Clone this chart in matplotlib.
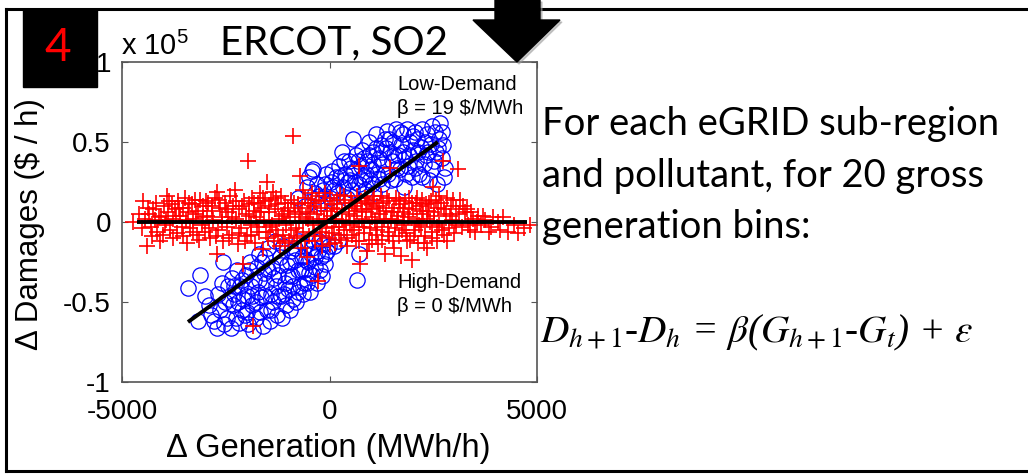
import matplotlib
matplotlib.use("Agg")
import matplotlib.pyplot as plt
from matplotlib.patches import Rectangle, Polygon
from matplotlib.lines import Line2D

W, H = 1028, 476

# (delta generation MWh/h, delta damages in 1e5 $/h)
low_demand = [
    (-3410, -0.41), (-3120, -0.33), (-3170, -0.62), (-2900, -0.52), (-2850, -0.58),
    (-2710, -0.66), (-2680, -0.45), (-2640, -0.55), (-2570, -0.25), (-2520, -0.50),
    (-2480, -0.60), (-2450, -0.40), (-2380, -0.66), (-2350, -0.35), (-2330, -0.52),
    (-2290, -0.45), (-2260, -0.60), (-2230, -0.30), (-2180, -0.63), (-2150, -0.40),
    (-2120, -0.55), (-2080, -0.48), (-2040, -0.58), (-2010, -0.33), (-1980, -0.46),
    (-1960, -0.64), (-1920, -0.25), (-1890, -0.40), (-1860, -0.52), (-1840, -0.68),
    (-1810, -0.36), (-1780, -0.60), (-1750, -0.28), (-1720, -0.44), (-1700, -0.20),
    (-1670, -0.56), (-1640, -0.47), (-1610, -0.65), (-1590, -0.32), (-1560, -0.22),
    (-1530, -0.38), (-1500, -0.55), (-1470, -0.16), (-1440, -0.62), (-1410, -0.45),
    (-1380, -0.28), (-1350, -0.50), (-1320, -0.12), (-1290, -0.40), (-1260, -0.58),
    (-1230, -0.33), (-1200, -0.22), (-1170, -0.46), (-1140, -0.60), (-1110, -0.15),
    (-1080, -0.38), (-1050, -0.52), (-1020, -0.27), (-990, -0.42), (-960, -0.55),
    (-930, -0.18), (-900, -0.34), (-870, -0.48), (-840, -0.24), (-800, -0.50),
    (-770, -0.30), (-740, -0.12), (-700, -0.40), (-670, -0.22), (-640, -0.45),
    (-610, -0.30), (-580, -0.15), (-550, -0.38), (-520, -0.25), (-480, -0.44),
    (-450, -0.20), (-420, -0.33), (-390, -0.12), (-350, -0.28), (-310, -0.38),
    (-280, -0.18), (-240, -0.30), (-200, -0.22), (-150, -0.14), (-100, -0.26),
    (-50, -0.18), (-3000, -0.46), (-2780, -0.62), (-2600, -0.38), (-2540, -0.64),
    (-2420, -0.48), (-2310, -0.40), (-2200, -0.50), (-2100, -0.36), (-2000, -0.56),
    (-1930, -0.30), (-1870, -0.46), (-1770, -0.50), (-1690, -0.36), (-1620, -0.25),
    (-1550, -0.46), (-1480, -0.30), (-1400, -0.55), (-1330, -0.35), (-1250, -0.46),
    (-1180, -0.27), (-1100, -0.45), (-1000, -0.34), (-950, -0.25), (-880, -0.40),
    (-820, -0.16), (-760, -0.44), (-690, -0.30), (-620, -0.38), (-560, -0.24),
    (-500, -0.32), (-430, -0.16), (-360, -0.22), (-260, -0.12), (-180, -0.34),
    (-120, -0.20), (-20, -0.15), (100, -0.15), (200, -0.12),
    (-750, 0.15), (-600, 0.10), (-500, 0.28), (-430, 0.32), (-400, 0.33),
    (-350, 0.18), (-300, 0.24), (-220, 0.12), (-150, 0.20), (-80, 0.30),
    (0, 0.15), (30, 0.25), (80, 0.22), (150, 0.28), (180, 0.18),
    (230, 0.35), (300, 0.44), (330, 0.22), (380, 0.30), (420, 0.15),
    (460, 0.38), (500, 0.26), (540, 0.20), (570, 0.52), (600, 0.32),
    (640, 0.42), (660, -0.36), (700, 0.24), (720, -0.20), (750, 0.35),
    (790, 0.45), (830, 0.28), (860, 0.20), (900, 0.38), (940, 0.50),
    (970, 0.26), (1000, 0.33), (1040, 0.44), (1080, 0.18), (1110, 0.55),
    (1150, 0.30), (1190, 0.40), (1230, 0.48), (1270, 0.24), (1300, 0.36),
    (1340, 0.52), (1390, 0.57), (1420, 0.30), (1460, 0.44), (1500, 0.38),
    (1540, 0.50), (1580, 0.27), (1610, 0.58), (1650, 0.42), (1690, 0.33),
    (1720, 0.48), (1760, 0.55), (1800, 0.22), (1830, 0.40), (1870, 0.58),
    (1900, 0.35), (1940, 0.50), (1980, 0.28), (2010, 0.45), (2050, 0.56),
    (2090, 0.38), (2120, 0.52), (2160, 0.30), (2200, 0.47), (2240, 0.58),
    (2280, 0.36), (2320, 0.42), (2360, 0.55), (2400, 0.26), (2440, 0.49),
    (2480, 0.60), (2520, 0.38), (2560, 0.44), (2600, 0.24), (2630, 0.52),
    (2660, 0.62), (2700, 0.40), (2740, 0.48), (2780, 0.34),
    (-550, 0.22), (-250, 0.16), (-100, 0.24), (50, 0.32), (120, 0.20),
    (260, 0.28), (350, 0.38), (440, 0.25), (520, 0.34), (620, 0.25),
    (680, 0.38), (760, 0.27), (820, 0.40), (880, 0.30), (960, 0.42),
    (1020, 0.24), (1060, 0.36), (1130, 0.46), (1200, 0.27), (1260, 0.44),
    (1320, 0.30), (1370, 0.46), (1440, 0.52), (1480, 0.26), (1560, 0.42),
    (1630, 0.34), (1700, 0.56), (1780, 0.44), (1850, 0.30), (1920, 0.42),
    (2000, 0.54), (2060, 0.34), (2140, 0.44), (2220, 0.28), (2300, 0.50),
    (2380, 0.44), (2460, 0.33), (2540, 0.56), (2620, 0.46), (2720, 0.56),
    (2760, 0.28),
]

high_demand = [
    (-4730, 0.00), (-4490, 0.13), (-4400, -0.15), (-4450, 0.02), (-4350, 0.05),
    (-4300, -0.03), (-4250, 0.08), (-4200, 0.01), (-4150, -0.06), (-4080, -0.12),
    (-4050, 0.04), (-4000, 0.10), (-3960, -0.02), (-3920, 0.16), (-3880, 0.06),
    (-3840, -0.05), (-3800, 0.11), (-3760, 0.02), (-3720, 0.08), (-3680, -0.07),
    (-3640, 0.13), (-3600, 0.04), (-3560, -0.03), (-3520, 0.09), (-3480, 0.15),
    (-3430, -0.13), (-3400, 0.06), (-3360, -0.04), (-3320, 0.11), (-3280, 0.02),
    (-3240, 0.14), (-3200, -0.08), (-3160, 0.07), (-3120, 0.14), (-3080, -0.02),
    (-3040, 0.10), (-3000, -0.06), (-2960, 0.04), (-2920, 0.12), (-2880, -0.10),
    (-2840, 0.07), (-2800, 0.01), (-2760, 0.15), (-2710, 0.19), (-2710, -0.20),
    (-2680, -0.05), (-2640, 0.09), (-2600, 0.03), (-2560, -0.12), (-2520, 0.12),
    (-2480, -0.03), (-2440, 0.06), (-2400, 0.16), (-2360, -0.08), (-2320, 0.10),
    (-2280, 0.20), (-2250, 0.02), (-2210, -0.14), (-2170, 0.08), (-2130, -0.04),
    (-2080, -0.26), (-2060, 0.13), (-2020, 0.05), (-1980, -0.09), (-1960, 0.38),
    (-1930, 0.11), (-1900, -0.02), (-1870, 0.15), (-1840, -0.65), (-1820, 0.07),
    (-1790, -0.13), (-1760, 0.03), (-1730, 0.12), (-1700, -0.06), (-1670, 0.18),
    (-1640, 0.09), (-1610, -0.17), (-1580, 0.01), (-1550, 0.13), (-1510, 0.25),
    (-1490, -0.10), (-1460, 0.06), (-1430, -0.03), (-1400, 0.14), (-1360, 0.19),
    (-1340, -0.12), (-1310, 0.08), (-1280, -0.05), (-1250, 0.11), (-1220, 0.02),
    (-1190, -0.15), (-1160, 0.16), (-1130, -0.08), (-1100, 0.05), (-1070, 0.12),
    (-1040, -0.02), (-1010, 0.09), (-980, -0.12), (-950, 0.03), (-920, 0.14),
    (-880, 0.54), (-860, -0.10), (-830, 0.06), (-800, -0.04), (-770, 0.11),
    (-740, 0.00), (-710, 0.29), (-690, -0.16), (-660, 0.09), (-630, -0.06),
    (-600, 0.15), (-570, 0.03), (-540, -0.22), (-520, 0.12), (-490, -0.09),
    (-460, 0.06), (-430, 0.18), (-400, -0.02), (-370, 0.10), (-340, -0.12),
    (-300, 0.05), (-280, -0.37), (-260, 0.16), (-230, -0.06), (-200, 0.09),
    (-170, -0.15), (-140, 0.02), (-110, 0.13), (-80, -0.04), (-50, 0.07),
    (-20, -0.10), (10, 0.15), (40, 0.04), (70, -0.07), (100, 0.11),
    (130, -0.13), (160, 0.02), (190, 0.08), (220, -0.03), (250, 0.17),
    (280, -0.11), (310, 0.06), (340, -0.05), (370, 0.12), (400, 0.00),
    (430, -0.15), (460, 0.09), (490, -0.02), (520, 0.14), (550, -0.08),
    (580, 0.04), (610, 0.10), (640, -0.12), (670, 0.07), (700, 0.35),
    (720, -0.03), (740, -0.26), (760, 0.13), (790, 0.02), (820, -0.07),
    (850, 0.15), (880, 0.06), (910, -0.18), (940, 0.11), (970, -0.04),
    (1000, 0.08), (1030, -0.11), (1060, 0.14), (1090, 0.01), (1120, -0.08),
    (1150, 0.10), (1180, -0.14), (1210, 0.05), (1240, 0.16), (1270, -0.03),
    (1300, 0.12), (1330, -0.20), (1360, 0.07), (1400, -0.06), (1430, 0.13),
    (1460, 0.34), (1490, 0.02), (1520, -0.12), (1550, 0.09), (1580, -0.04),
    (1610, 0.15), (1640, 0.04), (1670, -0.09), (1700, 0.11), (1730, -0.21),
    (1760, 0.06), (1790, -0.02), (1820, 0.13), (1850, -0.07), (1880, 0.03),
    (1910, 0.15), (1940, -0.11), (1990, -0.24), (2020, 0.08), (2050, -0.05),
    (2080, 0.12), (2110, 0.02), (2140, -0.13), (2170, 0.10), (2200, -0.03),
    (2230, 0.14), (2260, 0.05), (2290, -0.09), (2320, 0.11), (2350, -0.16),
    (2380, 0.07), (2410, 0.00), (2440, 0.13), (2470, -0.06), (2500, 0.22),
    (2530, 0.04), (2560, 0.14), (2590, -0.12), (2620, 0.09), (2650, -0.02),
    (2690, 0.12), (2740, 0.38), (2770, -0.08), (2800, 0.05), (2840, 0.15),
    (2880, -0.04), (2920, 0.10), (2960, 0.01), (3010, -0.07), (3060, 0.08),
    (3100, 0.33), (3150, 0.14), (3200, -0.03), (3260, 0.06), (3310, 0.08),
    (3380, -0.05), (3450, 0.02), (3500, -0.06), (3580, 0.04), (3650, -0.02),
    (3750, 0.01), (3850, -0.06), (3950, 0.03), (4100, -0.05), (4180, 0.03),
    (4300, -0.06), (4450, -0.02), (4550, -0.07), (4680, -0.04), (4830, -0.02),
    (-4600, 0.05), (-4520, -0.04), (-4380, 0.09), (-4270, -0.09), (-4180, 0.12),
    (-4110, 0.03), (-4020, -0.08), (-3940, 0.01), (-3860, 0.13), (-3780, -0.10),
    (-3700, 0.04), (-3620, 0.09), (-3540, -0.09), (-3460, 0.01), (-3380, 0.12),
    (-3300, -0.06), (-3220, 0.05), (-3140, -0.11), (-3060, 0.03), (-2980, 0.13),
    (-2900, -0.04), (-2820, 0.10), (-2740, -0.09), (-2660, 0.14), (-2580, 0.00),
    (-2500, 0.08), (-2420, -0.10), (-2340, 0.03), (-2260, 0.13), (-2190, -0.07),
    (-2110, 0.10), (-2040, -0.12), (-1950, 0.04), (-1880, -0.08), (-1810, 0.12),
    (-1740, -0.03), (-1680, 0.06), (-1600, 0.15), (-1530, -0.06), (-1450, 0.10),
    (-1380, -0.02), (-1300, 0.15), (-1230, -0.09), (-1150, 0.04), (-1080, -0.13),
    (-1000, 0.07), (-930, -0.05), (-850, 0.12), (-780, -0.09), (-720, 0.05),
    (-650, 0.20), (-580, -0.12), (-510, 0.02), (-440, 0.12), (-380, -0.07),
    (-320, 0.14), (-250, 0.00), (-180, -0.09), (-120, 0.18), (-60, 0.02),
    (0, -0.14), (60, 0.09), (120, -0.03), (180, 0.14), (240, -0.08),
    (300, 0.01), (360, 0.16), (420, -0.10), (480, 0.05), (540, 0.12),
    (600, -0.05), (660, 0.16), (720, -0.12), (780, 0.08), (840, -0.03),
    (900, 0.12), (960, -0.14), (1020, 0.03), (1080, 0.16), (1140, -0.05),
    (1200, 0.09), (1260, -0.11), (1320, 0.02), (1380, 0.15), (1440, -0.09),
    (1500, 0.06), (1560, -0.16), (1620, 0.01), (1680, 0.14), (1740, -0.05),
    (1800, 0.09), (1860, -0.12), (1920, 0.05), (1980, 0.12), (2040, -0.09),
    (2100, 0.15), (2160, -0.02), (2220, 0.07), (2280, -0.13), (2340, 0.02),
    (2400, 0.12), (2460, -0.10), (2520, 0.06), (2580, -0.03), (2640, 0.16),
    (2700, -0.05), (2760, 0.08), (2820, -0.12), (2900, 0.04), (2980, 0.14),
    (3050, -0.02), (3120, 0.05), (3220, 0.10), (3330, -0.02), (3420, 0.06),
    (3550, 0.00), (3700, 0.04), (3900, -0.03), (4050, 0.00),
]

# fitted lines
low_fit_x = [-3410, 2610]
low_fit_y = [-0.625, 0.50]
high_fit_x = [-4640, 4760]
high_fit_y = [0.0, 0.0]

x_ticks = [-5000, 0, 5000]
x_tick_labels = ['-5000', '0', '5000']
y_ticks = [-1, -0.5, 0, 0.5, 1]
y_tick_labels = ['-1', '-0.5', '0', '0.5', '1']

title = 'ERCOT, SO2'
panel_number = '4'
body_lines = ['For each eGRID sub-region',
              'and pollutant, for 20 gross',
              'generation bins:']
equation = r'$D_{h+\mathit{1}}$-$D_h$ = $\beta$($G_{h+\mathit{1}}$-$G_t$) + $\varepsilon$'

plt.rcParams['mathtext.fontset'] = 'custom'
plt.rcParams['mathtext.rm'] = 'Liberation Sans'
plt.rcParams['mathtext.it'] = 'Liberation Sans:italic'
SANS = 'Liberation Sans'
SLIDE = 'Lato'


def fx(px):
    return px / W


def fy(py):
    return 1 - py / H


fig = plt.figure(figsize=(W / 100, H / 100), dpi=100)

# slide frame
for xs, ys in [([6, W], [9, 9]), ([6, 6], [9, 471]), ([6, W], [471, 471])]:
    fig.add_artist(Line2D([fx(x) for x in xs], [fy(y) for y in ys],
                          color='black', lw=2.2, transform=fig.transFigure))

ax = fig.add_axes([fx(122), fy(382), 415 / W, 320 / H])

bx, by = zip(*low_demand)
rx, ry = zip(*high_demand)
ax.plot(bx, by, 'o', mfc='none', mec='#0000ff', ms=11, mew=0.9, ls='none')
ax.plot(rx, ry, '+', color='#ff0000', ms=11, mew=1.2, ls='none')
ax.plot(low_fit_x, low_fit_y, color='black', lw=2.8, solid_capstyle='butt')
ax.plot(high_fit_x, high_fit_y, color='black', lw=2.8, solid_capstyle='butt')

ax.set_xlim(-5000, 5000)
ax.set_ylim(-1, 1)
ax.set_xticks(x_ticks)
ax.set_xticklabels(x_tick_labels)
ax.set_yticks(y_ticks)
ax.set_yticklabels(y_tick_labels)
ax.tick_params(direction='in', length=4, width=0.8, color='#555555',
               top=True, right=True, labelsize=20)
ax.tick_params(axis='x', pad=12)
ax.tick_params(axis='y', pad=8)
for lab in ax.get_xticklabels() + ax.get_yticklabels():
    lab.set_family(SANS)
for sp in ax.spines.values():
    sp.set_color('#555555')
    sp.set_linewidth(1.2)

fig.text(fx(30), fy(224), '\u0394 Damages ($ / h)', rotation=90, fontsize=22.5,
         family=SANS, ha='center', va='center')
fig.text(fx(328), fy(449), '\u0394 Generation (MWh/h)', fontsize=23.5,
         family=SANS, ha='center', va='center')
fig.text(fx(121), fy(55), r'x 10$^5$', fontsize=21, family=SANS,
         math_fontfamily='custom', va='baseline')

fig.text(fx(397), fy(85), 'Low-Demand', fontsize=14.5, family=SANS, va='center')
fig.text(fx(397), fy(108), '\u03b2 = 19 $/MWh', fontsize=14.5, family=SANS, va='center')
fig.text(fx(397), fy(282), 'High-Demand', fontsize=14.5, family=SANS, va='center')
fig.text(fx(397), fy(307), '\u03b2 = 0 $/MWh', fontsize=14.5, family=SANS, va='center')

# panel number box
fig.add_artist(Rectangle((fx(23), fy(87)), 74 / W, 77 / H, color='black',
                         transform=fig.transFigure, zorder=5))
fig.text(fx(58), fy(48), panel_number, color='#ff0000', fontsize=33,
         family=SLIDE, ha='center', va='center', zorder=6)

fig.text(fx(220), fy(54), title, fontsize=29, family=SLIDE, va='baseline')

# down arrow
arrow_px = [(495, 0), (540, 0), (540, 20), (560, 20), (517, 62), (473, 20), (495, 20)]
shadow = Polygon([(fx(x + 2), fy(y + 2)) for x, y in arrow_px], closed=True,
                 color='#999999', alpha=0.5, transform=fig.transFigure, zorder=4)
arrow = Polygon([(fx(x), fy(y)) for x, y in arrow_px], closed=True,
                color='black', transform=fig.transFigure, zorder=5)
fig.add_artist(shadow)
fig.add_artist(arrow)

for line, base in zip(body_lines, [135, 187, 238]):
    fig.text(fx(542), fy(base), line, fontsize=27.5, family=SLIDE, va='baseline')

fig.text(fx(540), fy(342), equation, fontsize=28.3, family='Liberation Serif',
         style='italic', math_fontfamily='stix', va='baseline')

fig.savefig('out.png', dpi=100)
